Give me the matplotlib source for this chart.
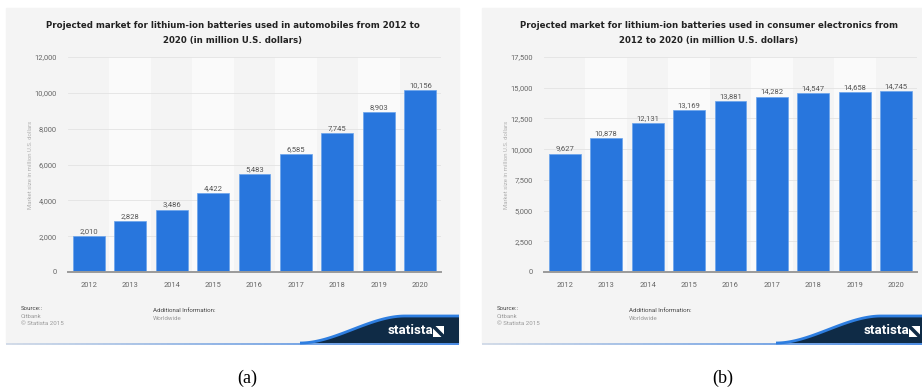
import matplotlib
matplotlib.use("Agg")
import matplotlib.pyplot as plt
from matplotlib.patches import Rectangle, Polygon
from matplotlib.collections import LineCollection
import numpy as np

# datos de los dos graficos
years = ["2012", "2013", "2014", "2015", "2016", "2017", "2018", "2019", "2020"]
autos = [2010, 2828, 3486, 4422, 5483, 6585, 7745, 8903, 10156]
electronica = [9627, 10878, 12131, 13169, 13881, 14282, 14547, 14658, 14745]
ticks_autos = [0, 2000, 4000, 6000, 8000, 10000, 12000]
ticks_electronica = [0, 2500, 5000, 7500, 10000, 12500, 15000, 17500]

titulo_a = ("Projected market for lithium-ion batteries used in automobiles from 2012 to\n"
            "2020 (in million U.S. dollars)")
titulo_b = ("Projected market for lithium-ion batteries used in consumer electronics from\n"
            "2012 to 2020 (in million U.S. dollars)")

W, H = 922, 391
NARROW = ["Liberation Sans Narrow", "Roboto", "DejaVu Sans"]

fig = plt.figure(figsize=(W / 100, H / 100), dpi=100)
fig.patch.set_facecolor("white")

# eje de fondo en pixeles para cajas, textos y logo
bg = fig.add_axes([0, 0, 1, 1])
bg.set_xlim(0, W)
bg.set_ylim(H, 0)
bg.axis("off")


def miles(v):
    return f"{v:,}"


def panel(dx, titulo, valores, yticks, letra):
    # caja gris del panel
    bg.add_patch(Rectangle((6 + dx, 8), 453, 335, color="#f4f4f4", zorder=0))
    bg.text(232.5 + dx, 33, titulo, ha="center", va="center", fontsize=6.2,
            fontweight="bold", color="#222222", linespacing=1.75)

    ax = fig.add_axes([(68 + dx) / W, 1 - 272 / H, 373 / W, 215 / H])
    ax.set_facecolor("none")
    x = np.arange(len(years))
    for i in x:
        if i % 2 == 1:
            ax.axvspan(i - 0.5, i + 0.5, color="#fafafa", zorder=0, lw=0)
    barras = ax.bar(x, valores, width=0.77, color="#2876dd",
                    edgecolor="#6aa3ec", linewidth=0.5, zorder=3)
    for b, v in zip(barras, valores):
        ax.annotate(miles(v), (b.get_x() + b.get_width() / 2, v),
                    xytext=(0, 1.5), textcoords="offset points",
                    ha="center", va="bottom", fontsize=5.5,
                    color="#555555", family=NARROW)
    ax.set_xlim(-0.5, len(years) - 0.5)
    ax.set_ylim(0, yticks[-1])
    ax.set_yticks(yticks)
    ax.set_yticklabels([miles(t) for t in yticks], family=NARROW,
                       fontsize=5.4, color="#666666")
    ax.set_xticks(x)
    ax.set_xticklabels(years, family=NARROW, fontsize=5.4, color="#666666")
    ax.tick_params(length=0, pad=7)
    ax.tick_params(axis="y", pad=8)
    ax.yaxis.grid(True, color="#e3e3e3", linewidth=0.6, zorder=1)
    ax.set_axisbelow(True)
    for s in ["top", "right", "left"]:
        ax.spines[s].set_visible(False)
    ax.spines["bottom"].set_color("#9a9a9a")
    ax.spines["bottom"].set_linewidth(1.4)
    ax.spines["bottom"].set_zorder(4)

    bg.text(30 + dx, 165, "Market size in million U.S. dollars", rotation=90,
            ha="center", va="center", fontsize=4.3, color="#b0b0b0",
            family=NARROW)

    # pie de fuente
    bg.text(21 + dx, 309, "Source::", fontsize=4.4, color="#444444",
            va="center", family=NARROW)
    bg.text(21 + dx, 316.5, "Citbank", fontsize=4.4, color="#999999",
            va="center", family=NARROW)
    bg.text(21 + dx, 323.5, "\u00a9 Statista 2015", fontsize=4.4,
            color="#999999", va="center", family=NARROW)
    bg.text(153 + dx, 310, "Additional Information:", fontsize=4.4,
            color="#444444", va="center", family=NARROW)
    bg.text(153 + dx, 318, "Worldwide", fontsize=4.4, color="#999999",
            va="center", family=NARROW)

    # logo de statista
    t = np.linspace(0, 1, 60)
    s = t * t * (3 - 2 * t)
    cx = 300 + dx + 105 * t
    cy = 343 - 27 * s
    pts = list(zip(cx, cy)) + [(459 + dx, 316), (459 + dx, 343)]
    bg.add_patch(Polygon(pts, closed=True, color="#0f2b46", zorder=2, lw=0))
    bg.plot(list(cx) + [459 + dx], list(cy) + [316], color="#2e7ee0",
            lw=2.0, zorder=3, solid_capstyle="butt")
    bg.text(410 + dx, 331, "statista", ha="center", va="center",
            fontsize=9.5, fontweight="bold", color="white", family=NARROW,
            zorder=4)
    x0, y0, a = 433 + dx, 337, 11
    bg.add_patch(Polygon([(x0, y0), (x0 + a - 2.5, y0), (x0, y0 - a + 2.5)],
                         color="white", zorder=4, lw=0))
    bg.add_patch(Polygon([(x0 + a, y0 - a), (x0 + 2.5, y0 - a),
                          (x0 + a, y0 - 2.5)],
                         color="white", zorder=4, lw=0))

    # linea inferior en degradado
    lx = np.linspace(6 + dx, 459 + dx, 80)
    segs = [[(lx[i], 343.5), (lx[i + 1], 343.5)] for i in range(len(lx) - 1)]
    cols = [(0.80 + (0.16 - 0.80) * f, 0.84 + (0.46 - 0.84) * f,
             0.90 + (0.87 - 0.90) * f) for f in np.linspace(0, 1, len(segs))]
    bg.add_collection(LineCollection(segs, colors=cols, linewidths=1.2,
                                     zorder=1))

    bg.text(247 + dx, 378, letra, ha="center", va="center", fontsize=13,
            family="Liberation Serif", color="black")
    return ax


panel(0, titulo_a, autos, ticks_autos, "(a)")
panel(476, titulo_b, electronica, ticks_electronica, "(b)")

plt.savefig("out.png", dpi=100)
